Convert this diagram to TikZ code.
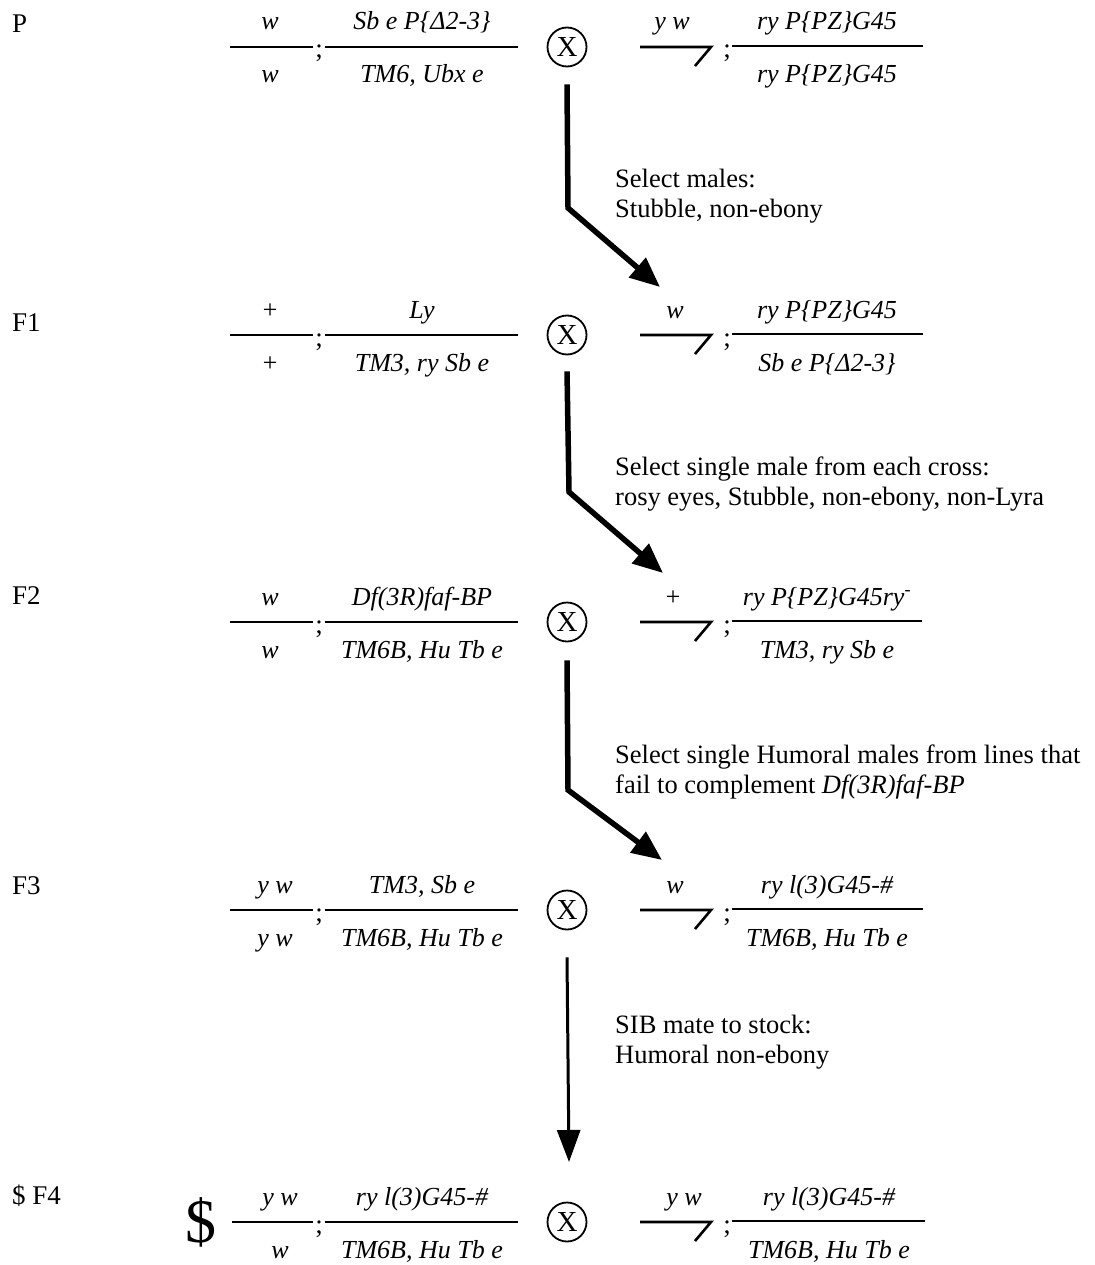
\documentclass[tikz,border=0pt]{standalone}
\usepackage{fontspec}
\setmainfont{Liberation Serif}
\usetikzlibrary{arrows.meta}

\tikzset{
  gen/.style={font=\fontsize{26}{30}\selectfont\itshape, inner sep=0pt, anchor=base},
  lbl/.style={font=\fontsize{27}{32}\selectfont, inner sep=0pt, anchor=base west},
  note/.style={font=\fontsize{26.5}{30}\selectfont, inner sep=0pt, anchor=base west},
  semi/.style={font=\fontsize{27}{30}\selectfont, inner sep=0pt, anchor=base},
  bar/.style={line width=2.6pt},
  crossx/.style={circle, draw, line width=1.8pt, minimum size=39pt, inner sep=0pt, font=\fontsize{29}{32}\selectfont},
  stage/.style={line width=5.5pt, -{Triangle[length=30pt,width=25pt]}},
  sib/.style={line width=3pt, -{Triangle[length=32pt,width=23pt]}},
}

\begin{document}
\begin{tikzpicture}[x=1pt, y=-1pt]
\useasboundingbox (0,0) rectangle (1094,1265);

% P
\node[lbl] (pgen) at (12,33) {P};
\draw[bar] (230,47) -- (313,47);
\node[semi] (psemi) at (319,58) {;};
\draw[bar] (325,47) -- (518,47);
\node[gen] (pfXa) at (270,30) {w};
\node[gen] (pfXb) at (270,83) {w};
\node[gen] (pf3a) at (422,30) {Sb e P\{Δ2-3\}};
\node[gen] (pf3b) at (422,83) {TM6, Ubx e};
\node[crossx] (pcross) at (567,47) {X};
\draw[bar] (640,47) -- (711,47) -- (695,66);
\node[semi] (pmsemi) at (727,58) {;};
\draw[bar] (732,46) -- (923,46);
\node[gen] (pmX) at (672,30) {y w};
\node[gen] (pm3a) at (827,30) {ry P\{PZ\}G45};
\node[gen] (pm3b) at (827,83) {ry P\{PZ\}G45};

% F1
\node[lbl] (f1gen) at (12,331) {F1};
\draw[bar] (230,335) -- (313,335);
\node[semi] (f1semi) at (319,346) {;};
\draw[bar] (325,335) -- (518,335);
\node[gen] (f1fXa) at (270,318) {+};
\node[gen] (f1fXb) at (270,371) {+};
\node[gen] (f1f3a) at (422,318) {Ly};
\node[gen] (f1f3b) at (422,371) {TM3, ry Sb e};
\node[crossx] (f1cross) at (567,335) {X};
\draw[bar] (640,335) -- (711,335) -- (695,354);
\node[semi] (f1msemi) at (727,346) {;};
\draw[bar] (732,334) -- (923,334);
\node[gen] (f1mX) at (675,318) {w};
\node[gen] (f1m3a) at (827,318) {ry P\{PZ\}G45};
\node[gen] (f1m3b) at (827,371) {Sb e P\{Δ2-3\}};

% F2
\node[lbl] (f2gen) at (12,604) {F2};
\draw[bar] (230,622) -- (313,622);
\node[semi] (f2semi) at (319,633) {;};
\draw[bar] (325,622) -- (518,622);
\node[gen] (f2fXa) at (270,605) {w};
\node[gen] (f2fXb) at (270,658) {w};
\node[gen] (f2f3a) at (422,605) {Df(3R)faf-BP};
\node[gen] (f2f3b) at (422,658) {TM6B, Hu Tb e};
\node[crossx] (f2cross) at (567,622) {X};
\draw[bar] (640,622) -- (711,622) -- (695,641);
\node[semi] (f2msemi) at (727,633) {;};
\draw[bar] (732,621) -- (922,621);
\node[gen] (f2mX) at (673,605) {+};
\node[gen] (f2m3a) at (827,605) {ry P\{PZ\}G45ry\textsuperscript{-}};
\node[gen] (f2m3b) at (827,658) {TM3, ry Sb e};

% F3
\node[lbl] (f3gen) at (12,894) {F3};
\draw[bar] (230,910) -- (313,910);
\node[semi] (f3semi) at (319,921) {;};
\draw[bar] (325,910) -- (518,910);
\node[gen] (f3fXa) at (275,893) {y w};
\node[gen] (f3fXb) at (275,946) {y w};
\node[gen] (f3f3a) at (422,893) {TM3, Sb e};
\node[gen] (f3f3b) at (422,946) {TM6B, Hu Tb e};
\node[crossx] (f3cross) at (567,910) {X};
\draw[bar] (640,910) -- (711,910) -- (695,929);
\node[semi] (f3msemi) at (727,921) {;};
\draw[bar] (732,909) -- (923,909);
\node[gen] (f3mX) at (675,893) {w};
\node[gen] (f3m3a) at (827,893) {ry l(3)G45-\#};
\node[gen] (f3m3b) at (827,946) {TM6B, Hu Tb e};

% F4
\node[lbl] (f4gen) at (12,1204) {\$ F4};
\node[font=\fontsize{62}{66}\selectfont, inner sep=0pt] (f4sym) at (201,1222) {\$};
\draw[bar] (232,1222) -- (313,1222);
\node[semi] (f4semi) at (319,1233) {;};
\draw[bar] (325,1222) -- (518,1222);
\node[gen] (f4fXa) at (280,1205) {y w};
\node[gen] (f4fXb) at (280,1258) {w};
\node[gen] (f4f3a) at (422,1205) {ry l(3)G45-\#};
\node[gen] (f4f3b) at (422,1258) {TM6B, Hu Tb e};
\node[crossx] (f4cross) at (567,1222) {X};
\draw[bar] (640,1222) -- (711,1222) -- (695,1241);
\node[semi] (f4msemi) at (727,1233) {;};
\draw[bar] (732,1221) -- (925,1221);
\node[gen] (f4mX) at (684,1205) {y w};
\node[gen] (f4m3a) at (829,1205) {ry l(3)G45-\#};
\node[gen] (f4m3b) at (829,1258) {TM6B, Hu Tb e};

% selection steps
\coordinate (pbend) at (568,208);
\coordinate (f1tip) at (660,287);
\draw[stage] ([yshift=-17pt]pcross.south) -- (pbend) -- (f1tip);
\node[note] (pnote1) at (615,188) {Select males:};
\node[note] (pnote2) at (615,218) {Stubble, non-ebony};

\coordinate (f1bend) at (569,492);
\coordinate (f2tip) at (663,573);
\draw[stage] ([yshift=-16pt]f1cross.south) -- (f1bend) -- (f2tip);
\node[note] (f1note1) at (615,475) {Select single male from each cross:};
\node[note] (f1note2) at (615,505) {rosy eyes, Stubble, non-ebony, non-Lyra};

\coordinate (f2bend) at (568,790);
\coordinate (f3tip) at (662,860);
\draw[stage] ([yshift=-18pt]f2cross.south) -- (f2bend) -- (f3tip);
\node[note] (f2note1) at (615,763) {Select single Humoral males from lines that};
\node[note] (f2note2) at (615,793) {fail to complement \textit{Df(3R)faf-BP}};

\coordinate (f4tip) at (569,1162);
\draw[sib] ([yshift=-27pt]f3cross.south) -- (f4tip);
\node[note] (f3note1) at (615,1033) {SIB mate to stock:};
\node[note] (f3note2) at (615,1063) {Humoral non-ebony};
\end{tikzpicture}
\end{document}
